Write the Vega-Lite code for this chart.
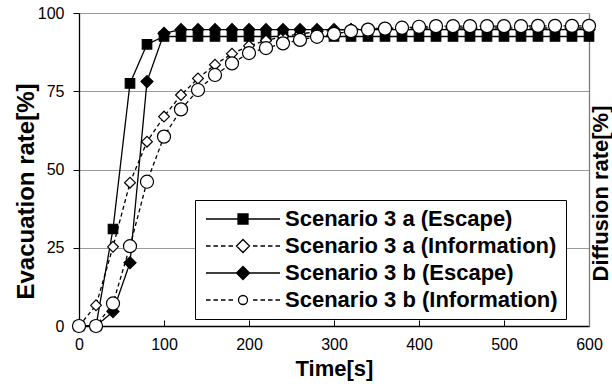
{
  "$schema": "https://vega.github.io/schema/vega-lite/v6.json",
  "width": 510,
  "height": 313,
  "autosize": {"type": "none"},
  "padding": {"left": 79, "top": 13, "right": 23, "bottom": 62},
  "background": "white",
  "config": {
    "view": {"stroke": null},
    "axis": {
      "labelFont": "Liberation Sans",
      "labelFontSize": 16,
      "labelColor": "black",
      "labelFlush": false,
      "titleFont": "Liberation Sans",
      "titleFontWeight": "bold",
      "titleColor": "black"
    }
  },
  "data": {
    "values": [
      {"s": "Scenario 3 a (Escape)", "t": 0, "v": 0},
      {"s": "Scenario 3 a (Escape)", "t": 20, "v": 0},
      {"s": "Scenario 3 a (Escape)", "t": 40, "v": 31},
      {"s": "Scenario 3 a (Escape)", "t": 60, "v": 77.5},
      {"s": "Scenario 3 a (Escape)", "t": 80, "v": 90},
      {"s": "Scenario 3 a (Escape)", "t": 100, "v": 92.5},
      {"s": "Scenario 3 a (Escape)", "t": 120, "v": 92.5},
      {"s": "Scenario 3 a (Escape)", "t": 140, "v": 92.5},
      {"s": "Scenario 3 a (Escape)", "t": 160, "v": 92.5},
      {"s": "Scenario 3 a (Escape)", "t": 180, "v": 92.5},
      {"s": "Scenario 3 a (Escape)", "t": 200, "v": 92.5},
      {"s": "Scenario 3 a (Escape)", "t": 220, "v": 92.5},
      {"s": "Scenario 3 a (Escape)", "t": 240, "v": 92.5},
      {"s": "Scenario 3 a (Escape)", "t": 260, "v": 92.5},
      {"s": "Scenario 3 a (Escape)", "t": 280, "v": 92.5},
      {"s": "Scenario 3 a (Escape)", "t": 300, "v": 92.5},
      {"s": "Scenario 3 a (Escape)", "t": 320, "v": 92.5},
      {"s": "Scenario 3 a (Escape)", "t": 340, "v": 92.5},
      {"s": "Scenario 3 a (Escape)", "t": 360, "v": 92.5},
      {"s": "Scenario 3 a (Escape)", "t": 380, "v": 92.5},
      {"s": "Scenario 3 a (Escape)", "t": 400, "v": 92.5},
      {"s": "Scenario 3 a (Escape)", "t": 420, "v": 92.5},
      {"s": "Scenario 3 a (Escape)", "t": 440, "v": 92.5},
      {"s": "Scenario 3 a (Escape)", "t": 460, "v": 92.5},
      {"s": "Scenario 3 a (Escape)", "t": 480, "v": 92.5},
      {"s": "Scenario 3 a (Escape)", "t": 500, "v": 92.5},
      {"s": "Scenario 3 a (Escape)", "t": 520, "v": 92.5},
      {"s": "Scenario 3 a (Escape)", "t": 540, "v": 92.5},
      {"s": "Scenario 3 a (Escape)", "t": 560, "v": 92.5},
      {"s": "Scenario 3 a (Escape)", "t": 580, "v": 92.5},
      {"s": "Scenario 3 a (Escape)", "t": 600, "v": 92.5},
      {"s": "Scenario 3 a (Information)", "t": 0, "v": 0},
      {"s": "Scenario 3 a (Information)", "t": 20, "v": 6.6},
      {"s": "Scenario 3 a (Information)", "t": 40, "v": 25.3},
      {"s": "Scenario 3 a (Information)", "t": 60, "v": 45.8},
      {"s": "Scenario 3 a (Information)", "t": 80, "v": 58.9},
      {"s": "Scenario 3 a (Information)", "t": 100, "v": 66.9},
      {"s": "Scenario 3 a (Information)", "t": 120, "v": 73.8},
      {"s": "Scenario 3 a (Information)", "t": 140, "v": 79.1},
      {"s": "Scenario 3 a (Information)", "t": 160, "v": 83.5},
      {"s": "Scenario 3 a (Information)", "t": 180, "v": 87},
      {"s": "Scenario 3 a (Information)", "t": 200, "v": 89.5},
      {"s": "Scenario 3 a (Information)", "t": 220, "v": 91.2},
      {"s": "Scenario 3 a (Information)", "t": 240, "v": 92.5},
      {"s": "Scenario 3 a (Information)", "t": 260, "v": 93.3},
      {"s": "Scenario 3 a (Information)", "t": 280, "v": 94},
      {"s": "Scenario 3 a (Information)", "t": 300, "v": 94.5},
      {"s": "Scenario 3 a (Information)", "t": 320, "v": 94.8},
      {"s": "Scenario 3 a (Information)", "t": 340, "v": 95},
      {"s": "Scenario 3 a (Information)", "t": 360, "v": 95.1},
      {"s": "Scenario 3 a (Information)", "t": 380, "v": 95.2},
      {"s": "Scenario 3 a (Information)", "t": 400, "v": 95.2},
      {"s": "Scenario 3 a (Information)", "t": 420, "v": 95.2},
      {"s": "Scenario 3 a (Information)", "t": 440, "v": 95.2},
      {"s": "Scenario 3 a (Information)", "t": 460, "v": 95.2},
      {"s": "Scenario 3 a (Information)", "t": 480, "v": 95.2},
      {"s": "Scenario 3 a (Information)", "t": 500, "v": 95.2},
      {"s": "Scenario 3 a (Information)", "t": 520, "v": 95.2},
      {"s": "Scenario 3 a (Information)", "t": 540, "v": 95.2},
      {"s": "Scenario 3 a (Information)", "t": 560, "v": 95.2},
      {"s": "Scenario 3 a (Information)", "t": 580, "v": 95.2},
      {"s": "Scenario 3 a (Information)", "t": 600, "v": 95.2},
      {"s": "Scenario 3 b (Escape)", "t": 0, "v": 0},
      {"s": "Scenario 3 b (Escape)", "t": 20, "v": 0},
      {"s": "Scenario 3 b (Escape)", "t": 40, "v": 4.6},
      {"s": "Scenario 3 b (Escape)", "t": 60, "v": 20.2},
      {"s": "Scenario 3 b (Escape)", "t": 80, "v": 78.1},
      {"s": "Scenario 3 b (Escape)", "t": 100, "v": 93.5},
      {"s": "Scenario 3 b (Escape)", "t": 120, "v": 94.7},
      {"s": "Scenario 3 b (Escape)", "t": 140, "v": 94.7},
      {"s": "Scenario 3 b (Escape)", "t": 160, "v": 94.7},
      {"s": "Scenario 3 b (Escape)", "t": 180, "v": 94.7},
      {"s": "Scenario 3 b (Escape)", "t": 200, "v": 94.7},
      {"s": "Scenario 3 b (Escape)", "t": 220, "v": 94.7},
      {"s": "Scenario 3 b (Escape)", "t": 240, "v": 94.7},
      {"s": "Scenario 3 b (Escape)", "t": 260, "v": 94.7},
      {"s": "Scenario 3 b (Escape)", "t": 280, "v": 94.7},
      {"s": "Scenario 3 b (Escape)", "t": 300, "v": 94.7},
      {"s": "Scenario 3 b (Escape)", "t": 320, "v": 94.7},
      {"s": "Scenario 3 b (Escape)", "t": 340, "v": 94.7},
      {"s": "Scenario 3 b (Escape)", "t": 360, "v": 94.7},
      {"s": "Scenario 3 b (Escape)", "t": 380, "v": 94.7},
      {"s": "Scenario 3 b (Escape)", "t": 400, "v": 94.7},
      {"s": "Scenario 3 b (Escape)", "t": 420, "v": 94.7},
      {"s": "Scenario 3 b (Escape)", "t": 440, "v": 94.7},
      {"s": "Scenario 3 b (Escape)", "t": 460, "v": 94.7},
      {"s": "Scenario 3 b (Escape)", "t": 480, "v": 94.7},
      {"s": "Scenario 3 b (Escape)", "t": 500, "v": 94.7},
      {"s": "Scenario 3 b (Escape)", "t": 520, "v": 94.7},
      {"s": "Scenario 3 b (Escape)", "t": 540, "v": 94.7},
      {"s": "Scenario 3 b (Escape)", "t": 560, "v": 94.7},
      {"s": "Scenario 3 b (Escape)", "t": 580, "v": 94.7},
      {"s": "Scenario 3 b (Escape)", "t": 600, "v": 94.7},
      {"s": "Scenario 3 b (Information)", "t": 0, "v": 0},
      {"s": "Scenario 3 b (Information)", "t": 20, "v": 0},
      {"s": "Scenario 3 b (Information)", "t": 40, "v": 7.2},
      {"s": "Scenario 3 b (Information)", "t": 60, "v": 25.5},
      {"s": "Scenario 3 b (Information)", "t": 80, "v": 46.1},
      {"s": "Scenario 3 b (Information)", "t": 100, "v": 60.5},
      {"s": "Scenario 3 b (Information)", "t": 120, "v": 69.2},
      {"s": "Scenario 3 b (Information)", "t": 140, "v": 75.4},
      {"s": "Scenario 3 b (Information)", "t": 160, "v": 80.2},
      {"s": "Scenario 3 b (Information)", "t": 180, "v": 83.9},
      {"s": "Scenario 3 b (Information)", "t": 200, "v": 87.2},
      {"s": "Scenario 3 b (Information)", "t": 220, "v": 88.8},
      {"s": "Scenario 3 b (Information)", "t": 240, "v": 90.3},
      {"s": "Scenario 3 b (Information)", "t": 260, "v": 91.4},
      {"s": "Scenario 3 b (Information)", "t": 280, "v": 92.4},
      {"s": "Scenario 3 b (Information)", "t": 300, "v": 93.3},
      {"s": "Scenario 3 b (Information)", "t": 320, "v": 94.2},
      {"s": "Scenario 3 b (Information)", "t": 340, "v": 94.7},
      {"s": "Scenario 3 b (Information)", "t": 360, "v": 95},
      {"s": "Scenario 3 b (Information)", "t": 380, "v": 95.3},
      {"s": "Scenario 3 b (Information)", "t": 400, "v": 95.6},
      {"s": "Scenario 3 b (Information)", "t": 420, "v": 95.8},
      {"s": "Scenario 3 b (Information)", "t": 440, "v": 95.8},
      {"s": "Scenario 3 b (Information)", "t": 460, "v": 95.8},
      {"s": "Scenario 3 b (Information)", "t": 480, "v": 95.8},
      {"s": "Scenario 3 b (Information)", "t": 500, "v": 95.8},
      {"s": "Scenario 3 b (Information)", "t": 520, "v": 95.8},
      {"s": "Scenario 3 b (Information)", "t": 540, "v": 95.9},
      {"s": "Scenario 3 b (Information)", "t": 560, "v": 95.9},
      {"s": "Scenario 3 b (Information)", "t": 580, "v": 95.9},
      {"s": "Scenario 3 b (Information)", "t": 600, "v": 95.9}
    ]
  },
  "layer": [
    {
      "mark": {"type": "line", "color": "black", "strokeWidth": 1.3},
      "encoding": {
        "x": {
          "field": "t", "type": "quantitative",
          "scale": {"domain": [0, 600], "nice": false},
          "axis": {
            "values": [0, 100, 200, 300, 400, 500, 600],
            "grid": false,
            "domainColor": "black", "domainWidth": 1.3,
            "tickColor": "black", "tickSize": -6, "tickWidth": 1,
            "labelPadding": 16, "labelBaseline": "top",
            "title": "Time[s]", "titleFontSize": 22,
            "titleY": 49, "titleBaseline": "alphabetic"
          }
        },
        "y": {
          "field": "v", "type": "quantitative",
          "scale": {"domain": [0, 100], "nice": false},
          "axis": {
            "orient": "left",
            "values": [0, 25, 50, 75, 100],
            "grid": true, "gridColor": "#9a9a9a", "gridWidth": 1,
            "domainColor": "black", "domainWidth": 1.3,
            "tickColor": "black", "tickSize": 6,
            "labelPadding": 9,
            "title": "Evacuation rate[%]", "titleFontSize": 24,
            "titleAngle": 270, "titleX": -46, "titleY": 178,
            "titleBaseline": "alphabetic"
          }
        },
        "strokeDash": {
          "field": "s", "type": "nominal",
          "scale": {
            "domain": ["Scenario 3 a (Escape)", "Scenario 3 a (Information)", "Scenario 3 b (Escape)", "Scenario 3 b (Information)"],
            "range": [[1, 0], [4, 3], [1, 0], [4, 3]]
          },
          "legend": null
        }
      }
    },
    {
      "mark": {"type": "point", "stroke": "black", "strokeWidth": 1.2, "opacity": 1},
      "encoding": {
        "x": {"field": "t", "type": "quantitative"},
        "y": {
          "field": "v", "type": "quantitative",
          "axis": {
            "orient": "right",
            "labels": false, "ticks": false, "grid": false,
            "domainColor": "#7a7a7a", "domainWidth": 1.3,
            "title": "Diffusion rate[%]", "titleFontSize": 22,
            "titleAngle": 270, "titleX": 1, "titleY": 180,
            "titleBaseline": "top"
          }
        },
        "shape": {
          "field": "s", "type": "nominal",
          "scale": {
            "domain": ["Scenario 3 a (Escape)", "Scenario 3 a (Information)", "Scenario 3 b (Escape)", "Scenario 3 b (Information)"],
            "range": ["square", "diamond", "diamond", "circle"]
          },
          "legend": null
        },
        "fill": {
          "field": "s", "type": "nominal",
          "scale": {
            "domain": ["Scenario 3 a (Escape)", "Scenario 3 a (Information)", "Scenario 3 b (Escape)", "Scenario 3 b (Information)"],
            "range": ["black", "white", "black", "white"]
          },
          "legend": null
        },
        "size": {
          "field": "s", "type": "nominal",
          "scale": {
            "domain": ["Scenario 3 a (Escape)", "Scenario 3 a (Information)", "Scenario 3 b (Escape)", "Scenario 3 b (Information)"],
            "range": [90, 170, 170, 85]
          },
          "legend": null
        }
      }
    },
    {
      "transform": [{"filter": "datum.t < 0"}],
      "mark": {"type": "point", "strokeWidth": 1.3, "opacity": 1, "size": 400},
      "encoding": {
        "x": {"field": "t", "type": "quantitative"},
        "y": {"field": "v", "type": "quantitative", "axis": null},
        "shape": {
          "field": "s", "type": "nominal",
          "scale": {
            "domain": ["Scenario 3 a (Escape)", "Scenario 3 a (Information)", "Scenario 3 b (Escape)", "Scenario 3 b (Information)"],
            "range": [
              "M-3.7,0H-0.5M0.5,0H3.7M-0.5,-0.5H0.5V0.5H-0.5Z",
              "M-3.7,0H-3.25M-2.95,0H-2.5M-2.2,0H-1.75M-1.45,0H-1M1,0H1.45M1.75,0H2.2M2.5,0H2.95M3.25,0H3.7M-0.65,0L0,-0.65L0.65,0L0,0.65Z",
              "M-3.7,0H-0.65M0.65,0H3.7M-0.65,0L0,-0.65L0.65,0L0,0.65Z",
              "M-3.7,0H-3.25M-2.95,0H-2.5M-2.2,0H-1.75M-1.45,0H-1M1,0H1.45M1.75,0H2.2M2.5,0H2.95M3.25,0H3.7M-0.45,0A0.45,0.45,0,1,0,0.45,0A0.45,0.45,0,1,0,-0.45,0Z"
            ]
          },
          "legend": {
            "title": null,
            "orient": "none",
            "legendX": 116,
            "legendY": 187,
            "padding": 8,
            "strokeColor": "black",
            "fillColor": "white",
            "labelFont": "Liberation Sans",
            "labelFontWeight": "bold",
            "labelFontSize": 22,
            "labelColor": "black",
            "labelLimit": 500,
            "symbolSize": 400,
            "symbolStrokeWidth": 1.3,
            "symbolOffset": 29,
            "labelOffset": 31,
            "rowPadding": 5,
            "encoding": {
              "symbols": {
                "stroke": {"value": "black"},
                "strokeWidth": {"value": 1.3},
                "opacity": {"value": 1}
              }
            }
          }
        },
        "fill": {
          "field": "s", "type": "nominal",
          "scale": {
            "domain": ["Scenario 3 a (Escape)", "Scenario 3 a (Information)", "Scenario 3 b (Escape)", "Scenario 3 b (Information)"],
            "range": ["black", "white", "black", "white"]
          }
        },
        "stroke": {
          "field": "s", "type": "nominal",
          "scale": {
            "domain": ["Scenario 3 a (Escape)", "Scenario 3 a (Information)", "Scenario 3 b (Escape)", "Scenario 3 b (Information)"],
            "range": ["black", "black", "black", "black"]
          }
        }
      }
    }
  ],
  "resolve": {
    "scale": {"shape": "independent", "fill": "independent", "size": "independent", "stroke": "independent"},
    "axis": {"y": "independent"}
  }
}
